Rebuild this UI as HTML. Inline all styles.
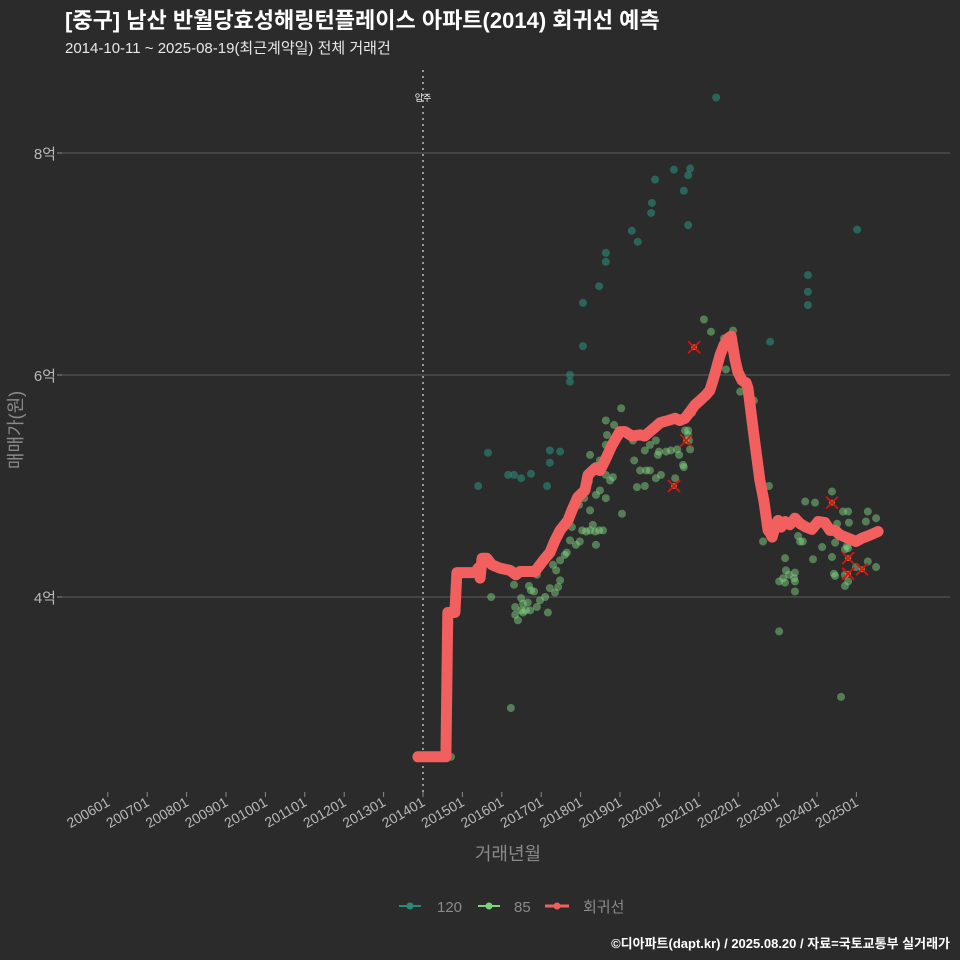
<!DOCTYPE html>
<html><head><meta charset="utf-8">
<style>
html,body{margin:0;padding:0;background:#2b2b2c;}
svg{display:block;font-family:"Liberation Sans","Noto Sans CJK KR",sans-serif;}
</style></head>
<body>
<svg id="chart" width="960" height="960" viewBox="0 0 960 960">
<rect width="960" height="960" fill="#2b2b2c"/>
<text x="65" y="28" font-size="22" font-weight="bold" fill="#ffffff">[중구] 남산 반월당효성해링턴플레이스 아파트(2014) 회귀선 예측</text>
<text x="65" y="53" font-size="15" fill="#e8e8e8">2014-10-11 ~ 2025-08-19(최근계약일) 전체 거래건</text>
<g id="grid"></g>
<g id="marks"></g>
<text transform="translate(22,430) rotate(-90)" text-anchor="middle" font-size="18" fill="#8a8a8a">매매가(원)</text>
<text x="508" y="860" text-anchor="middle" font-size="18" fill="#8a8a8a">거래년월</text>
<g>
 <g>
  <line x1="399" y1="906" x2="421" y2="906" stroke="#2a8a7a" stroke-width="2"/>
  <circle cx="410" cy="906" r="3.5" fill="#2a8a7a"/>
  <text x="437" y="912" font-size="15" fill="#8a8a8a">120</text>
 </g>
 <g>
  <line x1="478" y1="906" x2="500" y2="906" stroke="#7fd17f" stroke-width="2"/>
  <circle cx="489" cy="906" r="3.5" fill="#7fd17f"/>
  <text x="514" y="912" font-size="15" fill="#8a8a8a">85</text>
 </g>
 <g>
  <line x1="545" y1="906" x2="569" y2="906" stroke="#f25f5f" stroke-width="3"/>
  <circle cx="557" cy="906" r="3.5" fill="#f25f5f"/>
  <text x="583" y="912" font-size="15" fill="#8a8a8a">회귀선</text>
 </g>
</g>
<text x="950" y="948" text-anchor="end" font-size="13" font-weight="bold" fill="#ffffff">©디아파트(dapt.kr) / 2025.08.20 / 자료=국토교통부 실거래가</text>
</svg>
<script>
// ---- data (x = years since 2014-01, y = price in 억) ----
const yTicks = [4, 6, 8];
const yTickLabels = ["4억", "6억", "8억"];
const xTickYears = [-8,-7,-6,-5,-4,-3,-2,-1,0,1,2,3,4,5,6,7,8,9,10,11];
const xTickLabels = ["200601","200701","200801","200901","201001","201101","201201","201301","201401","201501","201601","201701","201801","201901","202001","202101","202201","202301","202401","202501"];
const moveInYear = 0;

const t120X = [7.44,6.37,6.78,6.73,5.89,6.62,5.81,5.79,6.73,5.30,5.45,4.64,4.64,4.47,4.06,4.06,3.73,3.73,8.81,9.77,9.77,9.77,11.02,1.65,1.40,2.16,2.31,2.49,2.74,3.22,3.22,3.48,3.15];
const t120Y = [8.50,7.85,7.86,7.80,7.76,7.66,7.55,7.46,7.35,7.30,7.20,7.10,7.02,6.80,6.65,6.26,6.00,5.94,6.30,6.90,6.75,6.63,7.31,5.30,5.00,5.10,5.10,5.07,5.11,5.32,5.21,5.31,5.00];

const t85X = [1.73,2.31,2.49,2.34,2.54,2.66,2.74,2.82,2.97,3.10,3.17,3.22,3.35,3.43,3.48,3.38,3.30,3.48,3.60,3.65,3.73,3.78,3.88,3.98,4.04,4.14,4.24,4.37,4.47,4.57,4.39,4.31,3.96,4.09,4.24,4.39,4.49,4.75,4.64,4.39,4.21,5.05,4.64,4.49,4.24,4.64,4.85,4.64,4.67,4.82,5.03,5.51,5.36,5.63,5.33,5.76,5.91,5.96,5.66,5.43,5.63,5.76,5.91,6.04,6.17,6.29,6.45,6.60,6.62,6.78,6.73,6.65,6.75,6.83,6.50,6.40,6.73,5.99,2.41,2.34,2.49,2.61,2.72,2.89,2.54,2.89,2.69,7.13,7.31,7.87,7.64,7.87,7.69,8.05,8.40,8.78,8.63,9.47,9.70,9.95,10.38,10.79,11.29,11.50,10.66,11.24,10.51,9.52,9.57,9.19,9.64,10.13,10.38,10.46,10.71,10.79,10.76,10.81,10.43,10.46,10.71,11.29,11.50,10.99,9.21,9.14,9.29,9.42,9.04,9.19,9.44,10.71,9.44,9.90,9.44,10.79,9.04,10.61,0.71,2.23];
const t85Y = [4.00,4.11,3.99,3.91,3.86,3.95,4.06,4.05,3.97,4.00,3.86,4.08,4.04,4.09,4.15,4.24,4.29,4.33,4.38,4.40,4.51,4.63,4.47,4.50,4.60,4.59,4.60,4.59,4.60,4.60,4.47,4.65,4.83,4.89,4.78,4.92,4.96,5.05,5.10,5.18,5.04,4.75,4.89,5.23,5.28,5.37,5.55,5.59,5.46,5.08,5.70,5.14,5.23,5.32,5.41,5.37,5.41,5.28,5.14,4.99,5.00,5.14,5.07,5.10,5.31,5.32,5.33,5.19,5.17,5.33,5.46,5.50,5.41,5.66,5.28,5.07,5.50,5.31,3.79,3.84,3.88,3.88,3.88,3.91,3.94,4.20,4.10,6.50,6.39,6.40,6.33,6.33,6.05,5.85,5.77,5.00,4.50,4.72,4.86,4.85,4.95,4.77,4.77,4.71,4.77,4.68,4.66,4.55,4.50,4.35,4.50,4.45,4.36,4.49,4.43,4.44,4.46,4.67,4.21,4.19,4.20,4.32,4.27,4.27,4.24,4.17,4.20,4.17,4.14,4.13,4.05,4.10,4.22,4.34,4.14,4.14,3.69,3.10,2.56,3.00];

const crossX = [6.88,6.68,6.37,10.38,10.79,10.79,11.14];
const crossY = [6.25,5.41,5.00,4.85,4.35,4.21,4.25];

const regX = [-0.13,0.58,0.63,0.81,0.86,1.32,1.40,1.45,1.50,1.62,1.75,1.95,2.21,2.36,2.46,2.72,2.84,2.97,3.10,3.22,3.35,3.48,3.68,3.78,3.93,4.11,4.19,4.37,4.49,4.62,4.80,5.00,5.13,5.30,5.51,5.63,5.76,5.89,6.02,6.22,6.40,6.52,6.65,6.78,6.90,7.03,7.18,7.28,7.36,7.44,7.54,7.64,7.74,7.82,7.92,7.99,8.10,8.20,8.25,8.35,8.45,8.55,8.65,8.76,8.81,8.86,8.93,9.01,9.09,9.19,9.31,9.44,9.57,9.72,9.87,10.03,10.20,10.33,10.46,10.58,10.79,10.99,11.14,11.29,11.55];
const regY = [2.56,2.56,3.86,3.86,4.22,4.22,4.26,4.17,4.35,4.35,4.29,4.26,4.24,4.20,4.23,4.23,4.23,4.29,4.35,4.40,4.51,4.60,4.69,4.78,4.90,4.96,5.10,5.16,5.14,5.23,5.37,5.49,5.49,5.45,5.46,5.45,5.49,5.53,5.57,5.59,5.61,5.59,5.61,5.67,5.73,5.77,5.82,5.86,5.95,6.05,6.18,6.27,6.33,6.35,6.14,6.03,5.95,5.93,5.88,5.59,5.32,5.05,4.87,4.60,4.58,4.54,4.62,4.69,4.63,4.68,4.65,4.71,4.66,4.63,4.61,4.68,4.67,4.60,4.60,4.56,4.53,4.50,4.53,4.55,4.59];

// ---- scales ----
const X = yr => 423 + yr * 39.4;
const Y = v => 597 - (v - 4) * 111;
const NS = "http://www.w3.org/2000/svg";
function mk(tag, attrs, parent) {
  const e = document.createElementNS(NS, tag);
  for (const k in attrs) e.setAttribute(k, attrs[k]);
  parent.appendChild(e);
  return e;
}
const grid = document.getElementById('grid');
const marks = document.getElementById('marks');

yTicks.forEach((v, i) => {
  const l = mk('line', {x1: 62, x2: 950, y1: Y(v), y2: Y(v), stroke: '#5e5e5e', 'stroke-width': 1}, grid);
  
  
  const tk = mk('line', {x1: 57, x2: 62, y1: Y(v), y2: Y(v), stroke: '#8a8a8a'}, grid);
  
  
  const t = mk('text', {x: 56, y: Y(v) + 6, 'text-anchor': 'end', 'font-size': 15, fill: '#b8b8b8'}, grid);
  t.textContent = yTickLabels[i];
  
  
});
xTickYears.forEach((yr, i) => {
  const x = X(yr);
  const tk = mk('line', {x1: x, x2: x, y1: 792, y2: 797, stroke: '#8a8a8a'}, grid);
  
  
  const t = mk('text', {x: x + 3, y: 805, 'text-anchor': 'end', 'font-size': 14, fill: '#b8b8b8', transform: `rotate(-30 ${x + 3} 805)`}, grid);
  t.textContent = xTickLabels[i];
  
  
});
const mv = mk('line', {x1: X(moveInYear), x2: X(moveInYear), y1: 70, y2: 792, stroke: '#bbbbbb', 'stroke-width': 1.5, 'stroke-dasharray': '2 4'}, grid);


const mvt = mk('text', {x: X(moveInYear), y: 101, 'text-anchor': 'middle', 'font-size': 9, fill: '#ffffff'}, grid);
mvt.textContent = '입주';



t120X.forEach((x, i) => {
  const c = mk('circle', {cx: X(x), cy: Y(t120Y[i]), r: 4, fill: '#2a8a7a', 'fill-opacity': 0.6}, marks);
  
  
});
t85X.forEach((x, i) => {
  const c = mk('circle', {cx: X(x), cy: Y(t85Y[i]), r: 4, fill: '#7fd17f', 'fill-opacity': 0.5}, marks);
  
  
});
const pts = regX.map((x, i) => X(x).toFixed(1) + ',' + Y(regY[i]).toFixed(1)).join(' ');
const reg = mk('polyline', {points: pts, fill: 'none', stroke: '#f25f5f', 'stroke-width': 11, 'stroke-linejoin': 'round', 'stroke-linecap': 'round'}, marks);


crossX.forEach((x, i) => {
  const cx = X(x), cy = Y(crossY[i]);
  const d = mk('circle', {cx: cx, cy: cy, r: 3, fill: '#d8a040', 'fill-opacity': 0.7}, marks);
  
  
  const g = mk('path', {d: `M${cx-6},${cy-6}L${cx+6},${cy+6}M${cx-6},${cy+6}L${cx+6},${cy-6}`, stroke: '#dd1111', 'stroke-width': 1.8}, marks);
  
  
});
</script>
</body></html>
